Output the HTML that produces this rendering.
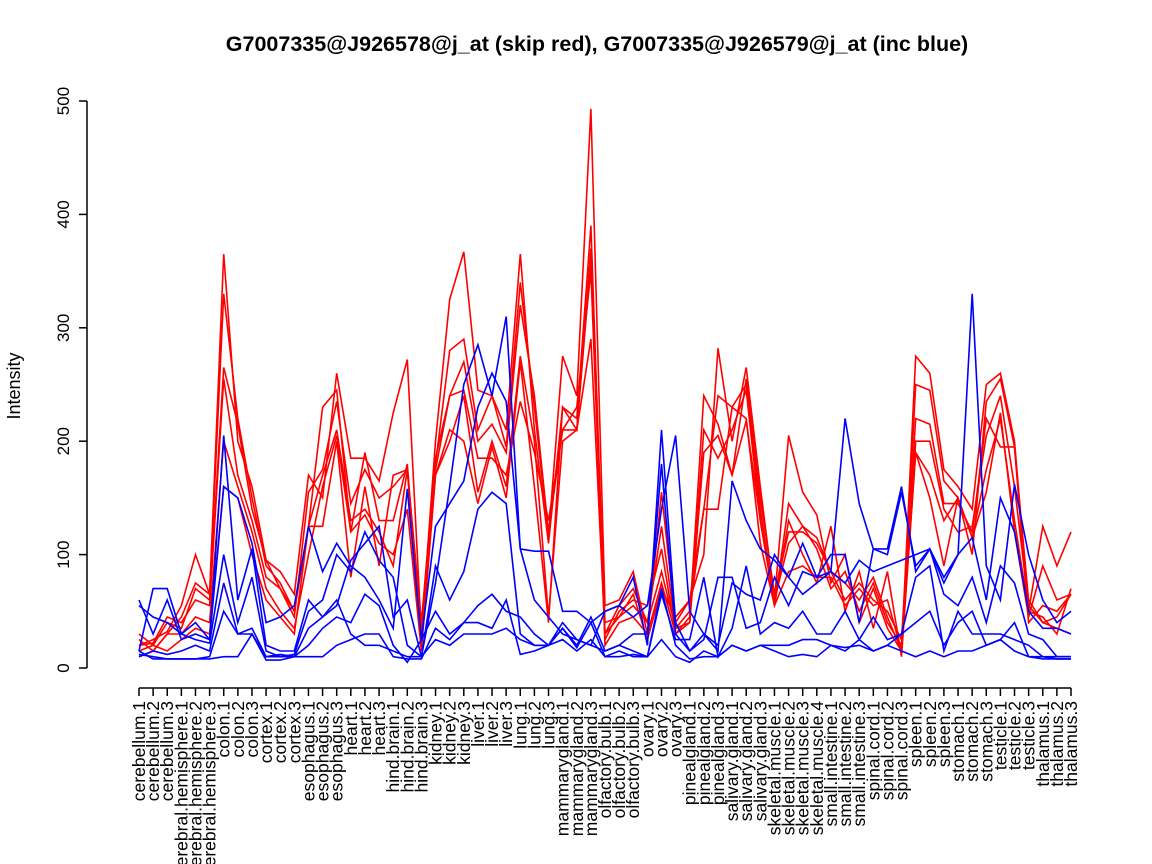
<!DOCTYPE html>
<html><head><meta charset="utf-8"><style>
body{margin:0;background:#fff}
svg{display:block;font-family:"Liberation Sans",sans-serif}
</style></head><body>
<svg id="chart" width="1152" height="864">
<text x="597" y="51" text-anchor="middle" font-size="21.5" font-weight="bold">G7007335@J926578@j_at (skip red), G7007335@J926579@j_at (inc blue)</text>
<text transform="translate(20,386) rotate(-90)" text-anchor="middle" font-size="18">Intensity</text>
<g id="yaxis"></g>
<g id="xaxis"></g>
<g id="lines"></g>
</svg>
<script>
const categories=["cerebellum.1","cerebellum.2","cerebellum.3","cerebral.hemisphere.1","cerebral.hemisphere.2","cerebral.hemisphere.3","colon.1","colon.2","colon.3","cortex.1","cortex.2","cortex.3","esophagus.1","esophagus.2","esophagus.3","heart.1","heart.2","heart.3","hind.brain.1","hind.brain.2","hind.brain.3","kidney.1","kidney.2","kidney.3","liver.1","liver.2","liver.3","lung.1","lung.2","lung.3","mammarygland.1","mammarygland.2","mammarygland.3","olfactory.bulb.1","olfactory.bulb.2","olfactory.bulb.3","ovary.1","ovary.2","ovary.3","pinealgland.1","pinealgland.2","pinealgland.3","salivary.gland.1","salivary.gland.2","salivary.gland.3","skeletal.muscle.1","skeletal.muscle.2","skeletal.muscle.3","skeletal.muscle.4","small.intestine.1","small.intestine.2","small.intestine.3","spinal.cord.1","spinal.cord.2","spinal.cord.3","spleen.1","spleen.2","spleen.3","stomach.1","stomach.2","stomach.3","testicle.1","testicle.2","testicle.3","thalamus.1","thalamus.2","thalamus.3"];
const yTicks=[0,100,200,300,400,500];
const red1=[20,25,32,55,100,65,365,200,160,95,85,65,170,150,260,185,185,165,225,272,30,200,325,367,245,240,195,340,230,115,275,240,493,55,60,85,30,155,40,60,100,282,200,265,160,60,205,155,135,75,100,40,70,35,15,275,260,175,160,140,250,260,200,50,125,90,120];
const red2=[25,15,30,45,75,65,330,220,150,90,75,50,125,230,245,120,190,130,130,180,20,180,280,290,210,240,210,365,210,110,230,220,390,30,55,70,40,125,35,50,140,240,230,250,140,55,145,125,115,85,75,60,80,45,15,250,245,165,150,100,235,255,195,40,55,50,65];
const red3=[15,20,40,35,70,60,265,215,140,95,70,45,155,175,235,145,175,150,160,175,25,175,240,270,200,215,190,320,240,120,210,230,350,25,50,60,55,105,30,45,240,215,170,255,150,65,120,120,110,85,60,75,60,50,25,220,215,145,145,120,220,195,195,60,40,45,65];
const red4=[20,22,45,40,60,55,255,170,130,80,70,50,125,170,210,130,140,120,90,175,40,185,240,245,185,185,170,235,190,130,210,210,290,30,45,55,40,85,35,40,210,185,210,245,130,60,110,125,105,70,85,50,75,40,20,200,200,140,120,125,205,240,160,55,40,35,30];
const red5=[10,15,30,30,45,40,200,160,120,70,50,35,100,160,205,120,135,110,100,140,15,170,200,240,155,200,160,275,200,45,200,210,370,20,40,45,30,75,30,40,190,205,170,218,130,55,85,90,80,80,55,70,55,60,15,190,170,130,150,115,175,220,130,50,45,30,70];
const red6=[30,20,15,25,35,30,160,150,100,60,45,30,125,125,200,80,160,90,170,175,25,170,210,200,145,195,150,270,160,40,230,210,360,40,45,65,25,70,45,60,140,140,230,220,110,55,130,100,75,125,50,85,35,85,10,190,150,90,150,115,155,225,120,45,90,60,65];
const blue1=[60,30,60,25,30,25,205,60,105,20,15,15,60,45,55,95,110,125,45,60,10,75,160,250,285,240,310,105,103,103,50,50,40,50,55,80,20,210,40,15,30,15,165,130,105,95,80,110,80,100,100,40,105,105,160,85,105,80,100,330,90,60,162,100,60,40,50];
const blue2=[55,45,40,30,40,25,160,150,110,40,45,55,125,85,110,90,80,60,35,158,25,125,145,165,230,260,235,105,60,45,30,25,20,50,55,45,55,140,205,50,30,20,75,65,60,100,80,65,75,85,220,145,105,100,155,90,105,75,100,115,60,150,120,50,35,35,30];
const blue3=[15,70,70,30,25,22,100,40,80,15,10,12,50,60,100,85,120,95,80,20,10,90,60,85,140,155,145,30,20,20,35,20,45,15,20,30,30,180,30,15,25,80,80,35,40,80,55,85,80,85,75,95,85,90,95,100,105,65,55,80,40,90,75,30,25,10,10];
const blue4=[10,15,12,15,20,15,75,30,30,10,10,10,20,35,45,40,65,55,20,5,25,50,30,40,55,65,50,45,30,20,25,15,25,10,15,10,10,65,25,25,80,10,35,90,30,40,35,50,30,30,50,25,45,25,30,40,50,20,40,50,20,25,40,10,10,10,10];
const blue5=[12,10,8,8,8,10,50,30,35,10,12,10,35,45,60,30,20,20,15,10,10,25,20,30,30,30,35,25,20,20,40,25,20,15,20,15,10,70,20,8,10,10,20,15,20,20,20,25,25,20,15,25,15,20,30,80,90,15,50,30,30,30,25,20,10,8,8];
const blue6=[15,8,8,8,8,8,10,10,30,7,7,10,10,10,20,25,30,30,10,8,8,35,25,40,40,35,60,12,15,20,35,18,40,10,10,12,10,25,10,5,15,10,20,15,20,15,10,12,10,20,18,20,15,20,15,10,15,10,15,15,20,25,15,10,8,8,8];
const redSeries=[red1,red2,red3,red4,red5,red6];
const blueSeries=[blue1,blue2,blue3,blue4,blue5,blue6];

const NS="http://www.w3.org/2000/svg";
const x0=139,x1=1071,yBase=668,yTop=101,yMax=500;
function xPos(i){return x0+i*(x1-x0)/(categories.length-1);}
function yPos(v){return yBase-v*(yBase-yTop)/yMax;}
function mk(tag,attrs,parent){const e=document.createElementNS(NS,tag);for(const k in attrs)e.setAttribute(k,attrs[k]);parent.appendChild(e);return e;}

const ya=document.getElementById('yaxis');
let yl=mk('line',{x1:87,x2:87,y1:yPos(0),y2:yPos(500),stroke:'#000','stroke-width':1.5},ya);


yTicks.forEach(t=>{
  const tk=mk('line',{x1:79,x2:87,y1:yPos(t),y2:yPos(t),stroke:'#000','stroke-width':1.5},ya);
  
  
  const lb=mk('text',{transform:`translate(69,${yPos(t)}) rotate(-90)`,'text-anchor':'middle','font-size':17},ya);
  lb.textContent=t;
  
  
});
const xa=document.getElementById('xaxis');
let xl=mk('line',{x1:x0,x2:x1,y1:688,y2:688,stroke:'#000','stroke-width':1.5},xa);


categories.forEach((c,i)=>{
  const tk=mk('line',{x1:xPos(i),x2:xPos(i),y1:688,y2:696,stroke:'#000','stroke-width':1.5},xa);
  
  
  const lb=mk('text',{transform:`translate(${xPos(i)+6},701) rotate(-90)`,'text-anchor':'end','font-size':17.5},xa);
  lb.textContent=c;
  
  
});
const lg=document.getElementById('lines');
function draw(s,color,name){
  const p=mk('polyline',{points:s.map((v,i)=>xPos(i).toFixed(1)+','+yPos(v).toFixed(1)).join(' '),fill:'none',stroke:color,'stroke-width':1.6,'stroke-linejoin':'miter'},lg);
  
  
}
redSeries.forEach((s,k)=>draw(s,'#ff0000','red-series-'+(k+1)));
blueSeries.forEach((s,k)=>draw(s,'#0000ff','blue-series-'+(k+1)));
</script>
</body></html>
